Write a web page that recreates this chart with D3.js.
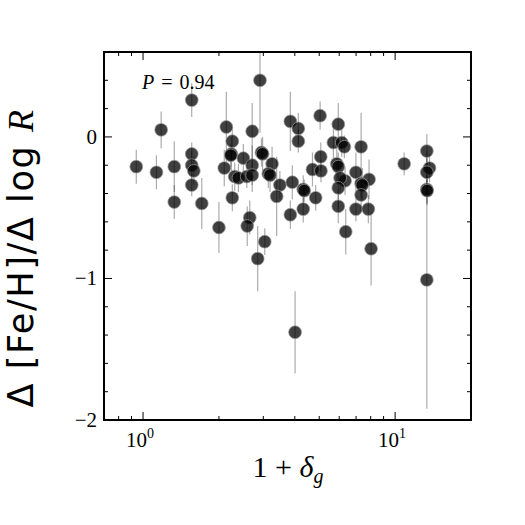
<!DOCTYPE html>
<html>
<head>
<meta charset="utf-8">
<script src="https://cdn.jsdelivr.net/npm/d3@7/dist/d3.min.js"></script>
<style>
  html, body { margin: 0; padding: 0; background: #fff; }
  svg { display: block; }
</style>
</head>
<body>
<div id="chart"></div>
<script>
// Overdensity (1 + delta_g) for each galaxy
const xValues = [
  0.94, 1.13, 1.18, 1.33, 1.33, 1.56, 1.56, 1.56, 1.59, 1.56,
  1.71, 2.00, 2.14, 2.26, 2.24, 2.23, 2.50, 2.10, 2.71, 2.95,
  2.98, 3.25, 2.71, 2.31, 2.39, 2.58, 2.71, 3.14, 3.19, 3.49,
  3.39, 3.91, 4.32, 4.36, 4.70, 2.26, 2.65, 2.59, 3.04, 2.85,
  3.84, 4.32, 4.84, 2.91, 3.84, 4.13, 4.13, 5.04, 5.95, 5.69,
  6.14, 6.29, 7.33, 5.07, 5.87, 5.95, 5.08, 6.99, 7.88, 6.33,
  6.05, 7.33, 7.41, 5.95, 7.33, 5.95, 6.99, 7.83, 6.37, 8.03,
  10.86, 13.36, 13.69, 13.36, 13.36, 13.40, 13.36, 4.01
];

// Metallicity gradient, Delta [Fe/H] / Delta log R
const yValues = [
  -0.21, -0.25, 0.05, -0.21, -0.46, 0.26, -0.12, -0.20, -0.24, -0.34,
  -0.47, -0.64, 0.07, -0.03, -0.12, -0.13, -0.15, -0.22, 0.04, -0.11,
  -0.12, -0.19, -0.20, -0.28, -0.29, -0.28, -0.27, -0.26, -0.27, -0.34,
  -0.42, -0.32, -0.37, -0.38, -0.23, -0.43, -0.57, -0.63, -0.74, -0.86,
  -0.55, -0.51, -0.43, 0.40, 0.11, 0.06, -0.03, 0.15, 0.09, -0.04,
  -0.04, -0.07, -0.07, -0.14, -0.19, -0.21, -0.24, -0.25, -0.30, -0.31,
  -0.29, -0.33, -0.34, -0.36, -0.41, -0.49, -0.51, -0.51, -0.67, -0.79,
  -0.19, -0.10, -0.22, -0.25, -0.37, -0.38, -1.01, -1.38
];

// Symmetric 1-sigma errors on the gradient
const yErrors = [
  0.12, 0.12, 0.13, 0.18, 0.12, 0.12, 0.08, 0.10, 0.10, 0.08,
  0.18, 0.18, 0.25, 0.10, 0.12, 0.08, 0.10, 0.13, 0.20, 0.10,
  0.12, 0.12, 0.14, 0.10, 0.10, 0.08, 0.12, 0.10, 0.12, 0.10,
  0.28, 0.12, 0.10, 0.08, 0.12, 0.095, 0.12, 0.14, 0.095, 0.23,
  0.10, 0.095, 0.09, 0.37, 0.21, 0.11, 0.08, 0.10, 0.15, 0.12,
  0.10, 0.08, 0.24, 0.10, 0.12, 0.10, 0.08, 0.14, 0.14, 0.10,
  0.12, 0.10, 0.12, 0.15, 0.12, 0.12, 0.085, 0.10, 0.16, 0.26,
  0.08, 0.12, 0.10, 0.10, 0.10, 0.10, 0.91, 0.29
];

// Axis ticks
const xMajorTicks = [1, 10];
const xMinorTicks = [0.8, 0.9, 2, 3, 4, 5, 6, 7, 8, 9, 20];
const yMajorTicks = [-2, -1, 0];
const yMinorTicks = [-1.8, -1.6, -1.4, -1.2, -0.8, -0.6, -0.4, -0.2, 0.2, 0.4, 0.6];
const xTickExponents = ["0", "1"];
const yTickLabels = ["\u22122", "\u22121", "0"];

const annotation = { symbol: "P", value: " = 0.94" };

const data = xValues.map((x, i) => ({ x: x, y: yValues[i], err: yErrors[i] }));

const config = {
  width: 525,
  height: 525,
  left: 104,
  right: 471,
  top: 52,
  bottom: 420,
  pointRadius: 6.4,
  majorTick: 8,
  minorTick: 4,
  serif: "'Liberation Serif', 'DejaVu Serif', serif",
  sans: "'DejaVu Sans', sans-serif"
};

const svg = d3.select("#chart").append("svg")
  .attr("width", config.width)
  .attr("height", config.height);

const x = d3.scaleLog()
  .domain([0.7, 20])
  .range([config.left, config.right]);

const y = d3.scaleLinear()
  .domain([-2, 0.6])
  .range([config.bottom, config.top]);

// Clip everything plotted to the axes box
svg.append("defs").append("clipPath")
  .attr("id", "plot-clip")
  .append("rect")
  .attr("x", config.left)
  .attr("y", config.top)
  .attr("width", config.right - config.left)
  .attr("height", config.bottom - config.top);

const plot = svg.append("g").attr("clip-path", "url(#plot-clip)");

// Error bars first, then markers on top
plot.append("g").attr("class", "errorbars")
  .selectAll("line")
  .data(data)
  .enter()
  .append("line")
  .attr("x1", d => x(d.x))
  .attr("x2", d => x(d.x))
  .attr("y1", d => y(d.y - d.err))
  .attr("y2", d => y(d.y + d.err))
  .attr("stroke", "#000")
  .attr("stroke-opacity", 0.33)
  .attr("stroke-width", 1.2);

plot.append("g").attr("class", "points")
  .selectAll("circle")
  .data(data)
  .enter()
  .append("circle")
  .attr("cx", d => x(d.x))
  .attr("cy", d => y(d.y))
  .attr("r", config.pointRadius)
  .attr("fill", "#000")
  .attr("fill-opacity", 0.75)
  .attr("stroke", "#9a9a9a")
  .attr("stroke-opacity", 0.7)
  .attr("stroke-width", 1);

// Axes box
const axesG = svg.append("g").attr("class", "axes");

function tickLines(values, scale, len, orient) {
  values.forEach(v => {
    const p = scale(v);
    if (orient === "x") {
      axesG.append("line")
        .attr("x1", p).attr("x2", p)
        .attr("y1", config.bottom).attr("y2", config.bottom - len)
        .attr("stroke", "#000").attr("stroke-width", 1);
      axesG.append("line")
        .attr("x1", p).attr("x2", p)
        .attr("y1", config.top).attr("y2", config.top + len)
        .attr("stroke", "#000").attr("stroke-width", 1);
    } else {
      axesG.append("line")
        .attr("x1", config.left).attr("x2", config.left + len)
        .attr("y1", p).attr("y2", p)
        .attr("stroke", "#000").attr("stroke-width", 1);
      axesG.append("line")
        .attr("x1", config.right).attr("x2", config.right - len)
        .attr("y1", p).attr("y2", p)
        .attr("stroke", "#000").attr("stroke-width", 1);
    }
  });
}

tickLines(xMajorTicks, x, config.majorTick, "x");
tickLines(xMinorTicks, x, config.minorTick, "x");
tickLines(yMajorTicks, y, config.majorTick, "y");
tickLines(yMinorTicks, y, config.minorTick, "y");

axesG.append("rect")
  .attr("x", config.left)
  .attr("y", config.top)
  .attr("width", config.right - config.left)
  .attr("height", config.bottom - config.top)
  .attr("fill", "none")
  .attr("stroke", "#000")
  .attr("stroke-width", 2);

// X tick labels: 10^0, 10^1
xMajorTicks.forEach((v, i) => {
  const t = svg.append("text")
    .attr("x", x(v) - 3)
    .attr("y", 447)
    .attr("text-anchor", "middle")
    .style("font-family", config.serif)
    .style("font-size", "21px");
  t.append("tspan").text("10");
  t.append("tspan")
    .attr("dy", -9)
    .style("font-size", "14px")
    .text(xTickExponents[i]);
});

// Y tick labels
yMajorTicks.forEach((v, i) => {
  svg.append("text")
    .attr("x", 97)
    .attr("y", y(v) + 7)
    .attr("text-anchor", "end")
    .style("font-family", config.serif)
    .style("font-size", "21px")
    .text(yTickLabels[i]);
});

// X axis label: 1 + delta_g
const xLabel = svg.append("text")
  .attr("x", 288)
  .attr("y", 477)
  .attr("text-anchor", "middle")
  .style("font-family", config.serif)
  .style("font-size", "30px");
xLabel.append("tspan").text("1 + ");
xLabel.append("tspan").style("font-style", "italic").text("\u03b4");
xLabel.append("tspan")
  .attr("dy", 6)
  .style("font-style", "italic")
  .style("font-size", "20px")
  .text("g");

// Y axis label
const yLabel = svg.append("text")
  .attr("transform", "translate(33,258) rotate(-90)")
  .attr("text-anchor", "middle")
  .style("font-family", config.sans)
  .style("font-size", "35px")
  .style("letter-spacing", "1.6px");
yLabel.append("tspan").text("\u0394 [Fe/H]/\u0394 log ");
yLabel.append("tspan")
  .style("font-family", config.serif)
  .style("font-style", "italic")
  .style("font-size", "36px")
  .text("R");

// Correlation probability
const pText = svg.append("text")
  .attr("x", 142)
  .attr("y", 89)
  .style("font-family", config.serif)
  .style("font-size", "20px")
  .style("word-spacing", "2px");
pText.append("tspan").style("font-style", "italic").text(annotation.symbol);
pText.append("tspan").text(annotation.value);
</script>
</body>
</html>
